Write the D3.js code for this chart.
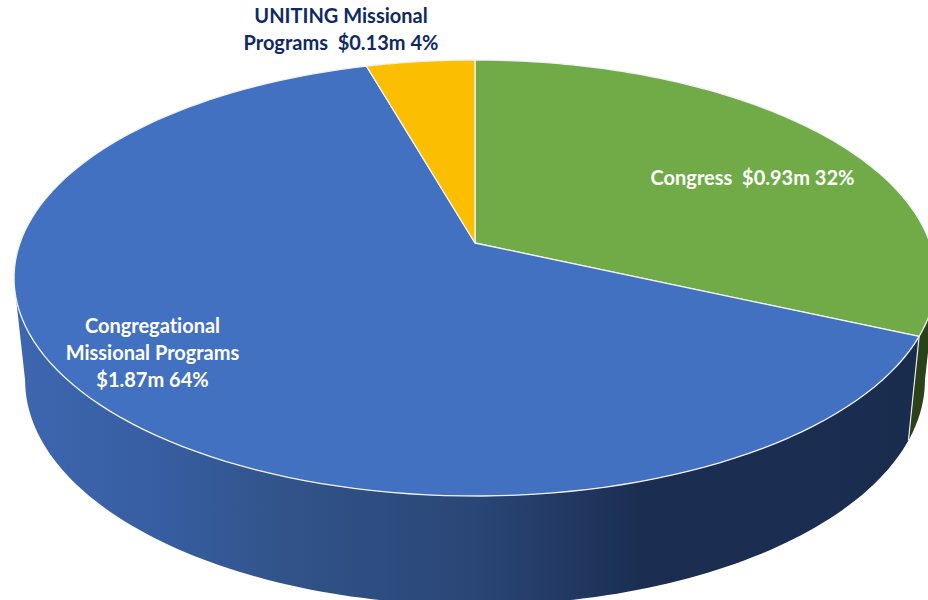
<!DOCTYPE html>
<html>
<head>
<meta charset="utf-8">
<style>
  html, body { margin: 0; padding: 0; background: #fff; }
  svg { display: block; }
  text { font-family: Lato, "Open Sans", sans-serif; font-weight: 700; font-size: 20px; font-variant-ligatures: none; }
</style>
<script src="https://cdn.jsdelivr.net/npm/d3@7"></script>
</head>
<body>
<svg id="chart" width="928" height="600"></svg>
<script>
const categories = ["Congress", "Congregational Missional Programs", "UNITING Missional Programs"];
const amounts = [0.93, 1.87, 0.13];
const labelLines = [
  ["Congress  $0.93m 32%"],
  ["Congregational", "Missional Programs", "$1.87m 64%"],
  ["UNITING Missional", "Programs  $0.13m 4%"]
];

const width = 928, height = 600;
const apexX = 475, apexY = 243;
// perspective tilt: the near edge of the disc looks bigger than the far one
const tilt = 0.1605, scaleU = 455, scaleV = 212.4;
// lower rim is a bit narrower but taller than the top one
const depth = 101, lowerU = 0.976, lowerV = 1.032;

const topColors = ["#70ab48", "#4371c1", "#fcbe00"];
const sideDark = "#2b4219";
const labelColors = ["#fff", "#fff", "#0f2a63"];
const labelCenters = [[752.5, 185], [152.5, 333], [341, 23]];
const lineGap = 27;

const svg = d3.select("#chart");

const pie = d3.pie().sort(null).value(d => d);
const arcs = pie(amounts);

// angle on the disc (clockwise from top) -> screen point
let project = (a, lower) => {
  let u = Math.sin(a), v = -Math.cos(a);
  let w = 1 - tilt * v;
  return [
    apexX + (lower ? lowerU : 1) * scaleU * u / w,
    apexY + (lower ? depth : 0) + (lower ? lowerV : 1) * scaleV * v / w
  ];
};

let rim = (a0, a1, lower) => d3.range(0, 121).map(i => project(a0 + (a1 - a0) * i / 120, lower));
let line = d3.line();

// side wall gradient for the blue slice
let defs = svg.append("defs");
let grad = defs.append("linearGradient")
  .attr("id", "wall")
  .attr("gradientUnits", "userSpaceOnUse")
  .attr("x1", 14).attr("x2", 936).attr("y1", 0).attr("y2", 0);
[[0, "#3e67b0"], [0.15, "#375ea2"], [0.3, "#315389"], [0.5, "#2a4676"], [0.68, "#1b2e52"], [1, "#1a2c4e"]]
  .forEach(s => grad.append("stop").attr("offset", s[0]).attr("stop-color", s[1]));

// the wall runs to the silhouette of the disc, top and lower rim leave it at different angles
let deg = d3.scaleLinear().domain([0, 360]).range([0, Math.PI * 2]);
let seam = arcs[0].endAngle;
let walls = [
  { up: [seam, deg(104.4)], down: [deg(99.2), seam], fill: sideDark },
  { up: [seam, deg(255.6)], down: [deg(260.8), seam], fill: "url(#wall)" }
];

walls.forEach(w => {
  let up = rim(w.up[0], w.up[1], false);
  let down = rim(w.down[0], w.down[1], true);
  svg.append("path")
    .attr("d", line(up.concat(down)) + "Z")
    .attr("fill", w.fill);
});

// white seam where green meets blue on the wall
svg.append("path")
  .attr("d", line([project(seam, false), project(seam, true)]))
  .attr("stroke", "#e8ecef")
  .attr("stroke-width", 1.2)
  .attr("fill", "none");

// top of the pie
svg.selectAll("path.slice")
  .data(arcs)
  .enter()
  .append("path")
  .attr("class", "slice")
  .attr("d", d => line([[apexX, apexY]].concat(rim(d.startAngle, d.endAngle, false))) + "Z")
  .attr("fill", (d, i) => topColors[i])
  .attr("stroke", "#f2f2f2")
  .attr("stroke-width", 1.3)
  .attr("stroke-linejoin", "round");

// labels
labelLines.forEach((lines, i) => {
  let t = svg.append("text")
    .attr("text-anchor", "middle")
    .attr("fill", labelColors[i]);
  lines.forEach((l, j) => {
    t.append("tspan")
      .attr("x", labelCenters[i][0])
      .attr("y", labelCenters[i][1] + j * lineGap)
      .style("white-space", "pre")
      .text(l);
  });
});
</script>
</body>
</html>
